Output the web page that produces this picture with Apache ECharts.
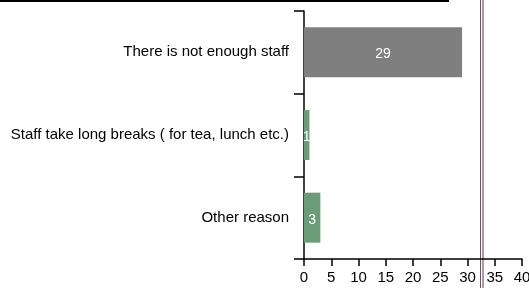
<!DOCTYPE html>
<html><head><meta charset="utf-8">
<script src="https://cdn.jsdelivr.net/npm/echarts@6/dist/echarts.min.js"></script>
<style>html,body{margin:0;padding:0;background:#fff}#c{width:529px;height:288px}</style>
</head><body><div id="c"></div>
<script>
const categories = ["There is not enough staff", "Staff take long breaks ( for tea, lunch etc.)", "Other reason"];
const values = [29, 1, 3];
const barColors = ["#7f7f7f", "#6a9c77", "#6a9c77"];
const xTicks = [0, 5, 10, 15, 20, 25, 30, 35, 40];

const chart = echarts.init(document.getElementById('c'));
chart.setOption({
  animation: false,
  grid: {left: 304, right: 7, top: 11, bottom: 29, containLabel: false, outerBoundsMode: 'none'},
  xAxis: {
    type: 'value', min: xTicks[0], max: xTicks[xTicks.length - 1], interval: 5,
    axisLine: {show: true, lineStyle: {color: '#000', width: 1.5}},
    axisTick: {show: true, length: 7, lineStyle: {color: '#000', width: 1.5}},
    axisLabel: {color: '#000', fontFamily: 'Liberation Sans, Arial', fontSize: 15, margin: 11},
    splitLine: {show: false}
  },
  yAxis: {
    type: 'category', data: categories, inverse: true,
    axisLine: {show: true, lineStyle: {color: '#000', width: 1.5}},
    axisTick: {show: true, length: 10, lineStyle: {color: '#000', width: 1.5}},
    axisLabel: {color: '#000', fontFamily: 'Liberation Sans, Arial', fontSize: 15, margin: 15, padding: [4, 0, 0, 0]}
  },
  series: [{
    type: 'bar', barWidth: 50,
    data: values.map((v, i) => ({value: v, itemStyle: {color: barColors[i]}})),
    label: {show: true, position: 'inside', offset: [0, 2], color: '#fff', fontFamily: 'Liberation Sans, Arial', fontSize: 14}
  }],
  graphic: [
    {type: 'rect', shape: {x: 0, y: 0, width: 449, height: 2}, style: {fill: '#000'}},
    {type: 'rect', shape: {x: 480, y: 0, width: 1, height: 288}, style: {fill: '#6b5563'}},
    {type: 'rect', shape: {x: 482.5, y: 0, width: 1, height: 288}, style: {fill: '#5c3444'}}
  ]
});
</script></body></html>
